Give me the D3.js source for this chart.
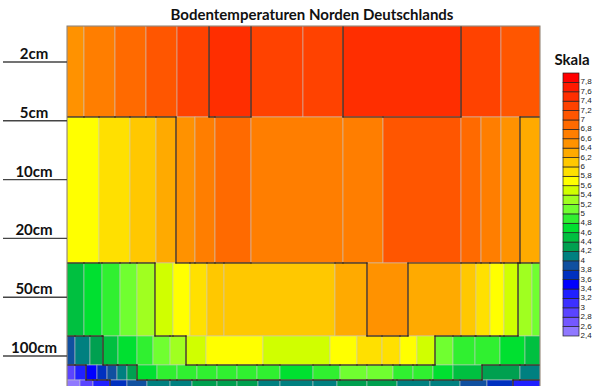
<!DOCTYPE html>
<html><head><meta charset="utf-8">
<script src="https://cdn.jsdelivr.net/npm/d3@7/dist/d3.min.js"></script>
<style>body{margin:0;background:#fff}svg{display:block}</style>
</head><body>
<svg id="chart" width="600" height="386"></svg>
<script>
// ---------- DATA ----------
const title = "Bodentemperaturen Norden Deutschlands";
const depthLabels = ["2cm", "5cm", "10cm", "20cm", "50cm", "100cm"];
// row boundaries expressed in depth-label index units
const rowBounds = [-0.612, 0.935, 3.418, 4.660, 5.153, 5.408, 5.75];
// column edges per row (horizontal position 0..100)
const colEdges = [
  [0, 3.59, 10.15, 16.70, 23.26, 30.02, 38.90, 49.89, 58.35, 83.30, 91.75, 100],
  [0, 6.77, 13.32, 18.82, 23.04, 27.06, 31.29, 38.90, 58.35, 66.81, 83.30, 87.53, 91.75, 95.77, 100],
  [0, 3.59, 7.40, 11.21, 14.80, 18.60, 22.41, 26.00, 29.60, 33.19, 56.66, 63.42, 72.09, 83.30, 86.47, 89.43, 92.39, 95.35, 98.31, 100],
  [0, 1.69, 4.86, 7.61, 10.78, 14.80, 18.18, 21.78, 25.16, 29.39, 41.44, 55.60, 61.31, 66.60, 70.40, 73.99, 77.80, 81.61, 86.26, 91.54, 96.83, 100],
  [0, 1.69, 4.02, 6.34, 8.46, 10.57, 12.68, 14.80, 19.03, 23.26, 27.48, 31.71, 35.94, 40.17, 45.03, 52.01, 57.72, 63.42, 68.92, 73.15, 77.38, 81.61, 87.74, 95.77, 100],
  [0, 2.75, 5.50, 9.09, 12.68, 16.91, 21.78, 26.43, 31.71, 35.94, 40.38, 45.03, 52.01, 57.08, 63.42, 69.77, 76.74, 83.09, 88.79, 94.29, 100]
];
// temperature (°C) per cell
const cellValues = [
  [6.5, 6.7, 6.9, 7.1, 7.3, 7.5, 7.3, 7.3, 7.5, 7.3, 7.1],
  [5.7, 5.9, 6.1, 6.3, 6.5, 6.7, 6.9, 6.7, 6.7, 7.1, 6.9, 6.7, 6.5, 6.3],
  [4.5, 4.7, 4.9, 5.1, 5.3, 5.5, 5.7, 5.9, 6.1, 6.1, 6.3, 6.5, 6.3, 6.1, 5.9, 5.7, 5.5, 5.3, 5.1],
  [3.9, 4.1, 4.3, 4.5, 4.7, 4.9, 5.1, 5.3, 5.5, 5.7, 5.5, 5.7, 5.9, 5.9, 5.7, 5.5, 5.1, 4.9, 4.9, 4.7, 4.5],
  [2.9, 3.3, 3.5, 3.7, 3.9, 4.1, 4.3, 4.7, 4.9, 4.9, 4.9, 4.9, 4.9, 4.9, 4.7, 4.9, 5.1, 5.1, 4.9, 4.9, 4.7, 4.5, 4.3, 4.1],
  [2.5, 2.9, 3.3, 3.7, 3.9, 4.1, 4.1, 4.3, 4.3, 4.3, 4.1, 4.1, 4.1, 4.3, 4.3, 4.1, 4.1, 3.9, 3.7, 3.3]
];
const legendTicks = [2.4, 2.6, 2.8, 3.0, 3.2, 3.4, 3.6, 3.8, 4.0, 4.2, 4.4, 4.6, 4.8, 5.0,
                     5.2, 5.4, 5.6, 5.8, 6.0, 6.2, 6.4, 6.6, 6.8, 7.0, 7.2, 7.4, 7.6, 7.8];
const legendMax = 8.0;
const binColors = ["#9078ff", "#7458ff", "#5a44ff", "#3c30ff", "#2020ff", "#0000ff", "#0030c0", "#1050a0",
                   "#008080", "#00a050", "#00c040", "#00e030", "#30f030", "#70ff30", "#a0ff20", "#d0ff00",
                   "#ffff00", "#ffe000", "#ffc800", "#ffaa00", "#ff9200", "#ff7e00", "#ff6a00", "#ff5600",
                   "#ff4200", "#ff2e00", "#ff1a00", "#ff0000"];
const contourLevels = [3.4, 4.4, 5.4, 6.4, 7.4];

// ---------- CHART ----------
const svg = d3.select("#chart");
const x = d3.scaleLinear().domain([0, 100]).range([67, 540]);
const y = d3.scaleLinear().domain([0, depthLabels.length - 1]).range([62, 356]);
const color = d3.scaleThreshold().domain(legendTicks.slice(1)).range(binColors);
const ly = d3.scaleLinear().domain([legendTicks[0], legendMax]).range([336, 73]);

svg.append("defs").append("clipPath").attr("id", "plotclip")
  .append("rect").attr("x", x(0)).attr("y", y(rowBounds[0]))
  .attr("width", x(100) - x(0)).attr("height", y(rowBounds[rowBounds.length - 1]) - y(rowBounds[0]));

const plot = svg.append("g").attr("clip-path", "url(#plotclip)");

const cells = [];
cellValues.forEach((row, r) => row.forEach((v, i) => cells.push({
  r, x0: colEdges[r][i], x1: colEdges[r][i + 1], v
})));

plot.selectAll("rect.cell").data(cells).join("rect")
  .attr("class", "cell")
  .attr("x", d => x(d.x0)).attr("width", d => x(d.x1) - x(d.x0))
  .attr("y", d => y(rowBounds[d.r])).attr("height", d => y(rowBounds[d.r + 1]) - y(rowBounds[d.r]))
  .attr("fill", d => color(d.v))
  .attr("stroke", "rgba(200,200,200,0.55)").attr("stroke-width", 1);

// contour segments along cell edges
const segs = [];
const crosses = (a, b) => contourLevels.some(L => (a < L) !== (b < L));
cellValues.forEach((row, r) => {
  for (let i = 0; i < row.length - 1; i++) {
    if (crosses(row[i], row[i + 1])) {
      segs.push([colEdges[r][i + 1], rowBounds[r], colEdges[r][i + 1], rowBounds[r + 1]]);
    }
  }
  if (r < cellValues.length - 1) {
    const nxt = cellValues[r + 1];
    row.forEach((a, i) => nxt.forEach((b, k) => {
      const lo = Math.max(colEdges[r][i], colEdges[r + 1][k]);
      const hi = Math.min(colEdges[r][i + 1], colEdges[r + 1][k + 1]);
      if (hi > lo && crosses(a, b)) segs.push([lo, rowBounds[r + 1], hi, rowBounds[r + 1]]);
    }));
  }
});
plot.selectAll("line.contour").data(segs).join("line")
  .attr("class", "contour")
  .attr("x1", d => x(d[0])).attr("y1", d => y(d[1]))
  .attr("x2", d => x(d[2])).attr("y2", d => y(d[3]))
  .attr("stroke", "#2e1c12").attr("stroke-width", 1.2).attr("stroke-linecap", "square");

// frame
svg.append("rect").attr("x", x(0)).attr("y", y(rowBounds[0]))
  .attr("width", x(100) - x(0)).attr("height", 400)
  .attr("fill", "none").attr("stroke", "#8a7a6a").attr("stroke-width", 1);

// title
svg.append("text").attr("x", 312).attr("y", 20).attr("text-anchor", "middle")
  .attr("font-family", "Lato, 'Open Sans', sans-serif").attr("font-weight", 700)
  .attr("font-size", 15).attr("fill", "#111").text(title);

// depth labels
const dg = svg.append("g").selectAll("g").data(depthLabels).join("g");
dg.append("line").attr("x1", 3).attr("x2", x(0)).attr("y1", (d, i) => y(i)).attr("y2", (d, i) => y(i))
  .attr("stroke", "#444").attr("stroke-width", 1.4);
dg.append("text").attr("x", 34).attr("y", (d, i) => y(i) - 3).attr("text-anchor", "middle")
  .attr("font-family", "Lato, 'Open Sans', sans-serif").attr("font-weight", 700)
  .attr("font-size", 15).attr("fill", "#111").text(d => d);

// legend
svg.append("text").attr("x", 572).attr("y", 65).attr("text-anchor", "middle")
  .attr("font-family", "Lato, 'Open Sans', sans-serif").attr("font-weight", 700)
  .attr("font-size", 15).attr("fill", "#111").text("Skala");
const lg = svg.append("g");
lg.selectAll("rect").data(legendTicks).join("rect")
  .attr("x", 563).attr("width", 16)
  .attr("y", (d, i) => ly(i < legendTicks.length - 1 ? legendTicks[i + 1] : legendMax))
  .attr("height", (d, i) => ly(d) - ly(i < legendTicks.length - 1 ? legendTicks[i + 1] : legendMax))
  .attr("fill", d => color(d + 0.1)).attr("stroke", "#222").attr("stroke-width", 0.7);
lg.selectAll("text").data(legendTicks).join("text")
  .attr("x", 580.5).attr("y", d => ly(d) + 2)
  .attr("font-family", "'Liberation Sans Narrow', 'Liberation Sans', Arial, sans-serif")
  .attr("font-size", 8).attr("fill", "#222")
  .text(d => d3.format("")(+d.toFixed(1)).replace(".", ","));
</script>
</body></html>
